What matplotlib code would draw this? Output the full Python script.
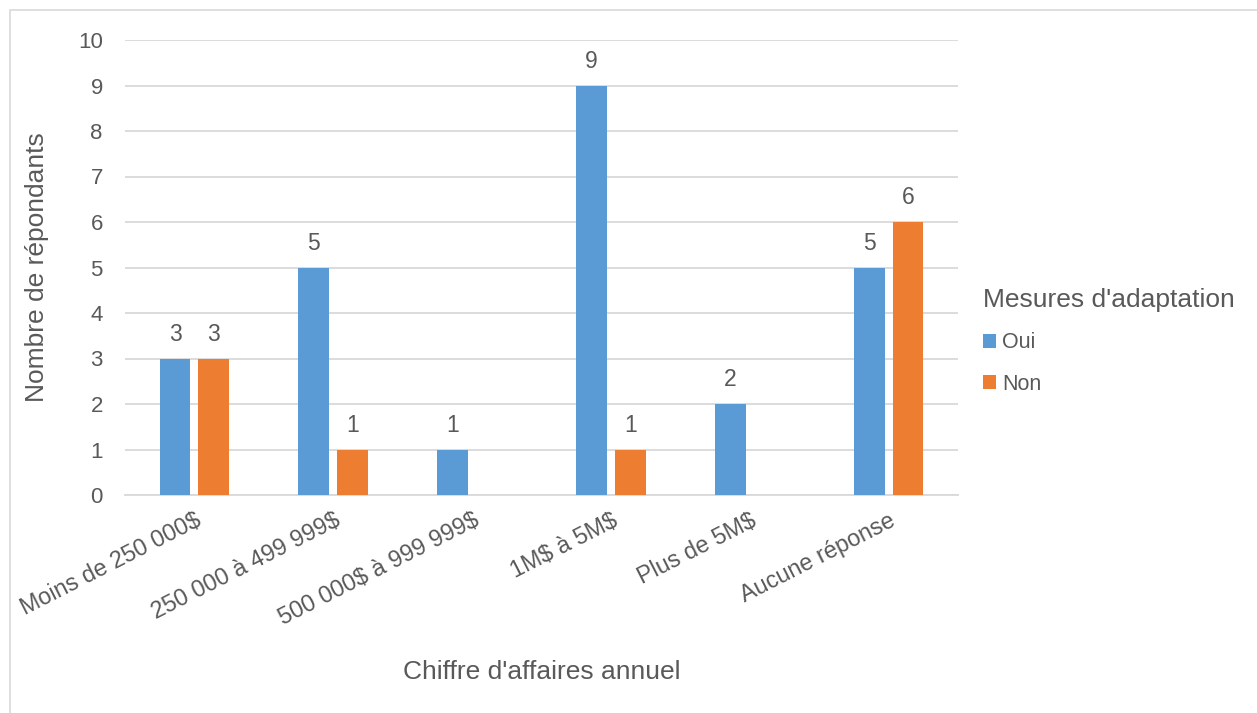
import numpy as np
import matplotlib
matplotlib.use("Agg")
import matplotlib.pyplot as plt
from matplotlib.patches import Rectangle

categories = ["Moins de 250 000$", "250 000 à 499 999$", "500 000$ à 999 999$",
              "1M$ à 5M$", "Plus de 5M$", "Aucune réponse"]
oui = [3, 5, 1, 9, 2, 5]
non = [3, 1, np.nan, 1, np.nan, 6]
series_names = ["Oui", "Non"]
legend_title = "Mesures d'adaptation"
xlabel = "Chiffre d'affaires annuel"
ylabel = "Nombre de répondants"

plt.rcParams['font.family'] = ['Liberation Sans', 'DejaVu Sans']
txt = '#595959'
grid = '#D9D9D9'
c_oui = '#5B9BD5'
c_non = '#ED7D31'

fig = plt.figure(figsize=(12.57, 7.13), dpi=100)
ax = fig.add_axes([125/1257, 1-495/713, (958-125)/1257, (495-40)/713])

# outer chart border
fig.patches.append(Rectangle((10/1257, -0.1), 1.2, 1 - 10/713 + 0.1,
                             transform=fig.transFigure, fill=False,
                             edgecolor=grid, linewidth=1.2))

x = np.arange(len(categories))
w = 0.222
off = 0.14
b1 = ax.bar(x - off, oui, w, color=c_oui, label=series_names[0], zorder=3)
b2 = ax.bar(x + off, non, w, color=c_non, label=series_names[1], zorder=3)

for bars, vals in ((b1, oui), (b2, non)):
    for rect, v in zip(bars, vals):
        if np.isnan(v):
            continue
        ax.annotate(f"{int(v)}", (rect.get_x() + rect.get_width()/2, v),
                    xytext=(0, 9), textcoords='offset points',
                    ha='center', va='bottom', fontsize=16.5, color=txt)

ax.set_xlim(-0.5, len(categories) - 0.5)
ax.set_ylim(0, 10)
ax.set_yticks(range(0, 11))
ax.yaxis.grid(True, color=grid, linewidth=1.3, zorder=0)
ax.set_axisbelow(True)
for s in ['top', 'right', 'left']:
    ax.spines[s].set_visible(False)
ax.spines['bottom'].set_color(grid)
ax.spines['bottom'].set_linewidth(1.3)
ax.tick_params(axis='both', length=0, colors=txt)
ax.tick_params(axis='y', pad=16, labelsize=16)
ax.set_xticks(x)
ax.set_xticklabels([c.replace('$', r'\$') for c in categories],
                   rotation=27, ha='right', rotation_mode='anchor')
ax.tick_params(axis='x', pad=10, labelsize=16.8)

ax.set_xlabel(xlabel, fontsize=19, color=txt, va='top')
ax.xaxis.set_label_coords(0.5, -0.362)
ax.set_ylabel(ylabel, fontsize=19, color=txt)
ax.yaxis.set_label_coords(-0.091, 0.5)

leg = ax.legend(title=legend_title, loc='upper left', bbox_to_anchor=(1.03, 0.455),
                frameon=False, fontsize=15.5, title_fontsize=19,
                borderpad=0, borderaxespad=0,
                handlelength=0.6, handleheight=0.6, handletextpad=0.3,
                labelspacing=0.95)
leg._legend_box.align = 'left'
leg.get_title().set_color(txt)
for t in leg.get_texts():
    t.set_color(txt)

fig.savefig("out.png", dpi=100, facecolor='white')
